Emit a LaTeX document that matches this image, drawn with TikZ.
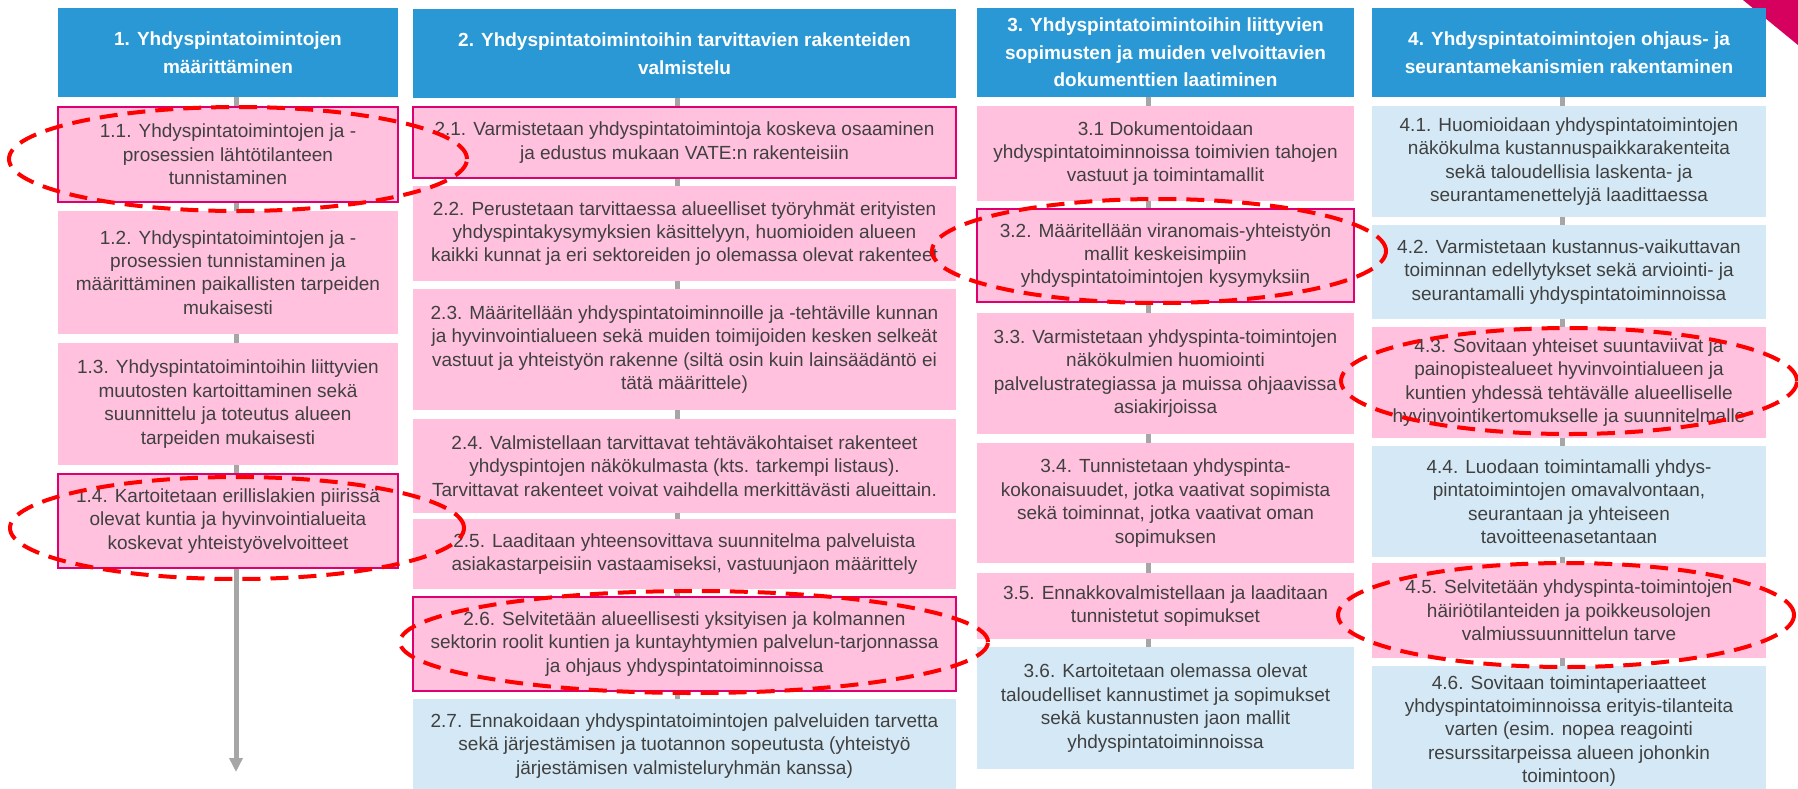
\documentclass[tikz,border=0pt]{standalone}
\usepackage{fontspec}
\setmainfont{Liberation Sans}
\usetikzlibrary{arrows.meta,backgrounds}
\definecolor{hdrblue}{RGB}{41,152,212}
\definecolor{pinkfill}{RGB}{255,193,222}
\definecolor{bluefill}{RGB}{212,233,245}
\definecolor{magborder}{RGB}{222,0,112}
\definecolor{txtgray}{RGB}{64,64,64}
\definecolor{conngray}{RGB}{166,166,166}
\definecolor{hlred}{RGB}{255,0,0}
\definecolor{cornermag}{RGB}{214,0,95}
\begin{document}
\begin{tikzpicture}[x=1pt,y=-1pt,
  base/.style={anchor=north west, inner sep=0pt, outer sep=0pt, align=center},
  hdr/.style={base, fill=hdrblue, text=white, font=\bfseries\fontsize{19pt}{27.5pt}\selectfont},
  pinkbox/.style={base, fill=pinkfill, text=txtgray, font=\fontsize{19pt}{23.4pt}\selectfont},
  bluebox/.style={base, fill=bluefill, text=txtgray, font=\fontsize{19pt}{23.4pt}\selectfont},
  marked/.style={draw=magborder, line width=2pt},
  conn/.style={draw=conngray, line width=5pt},
  hl/.style={draw=hlred, line width=4pt, dash pattern=on 18pt off 10pt}
]
\useasboundingbox (0,0) rectangle (1798,788);
\clip (0,0) rectangle (1798,788);
\begin{scope}[on background layer]
\fill[white] (0,0) rectangle (1798,788);
\end{scope}
\fill[cornermag] (1743,0) -- (1798,0) -- (1798,45) -- cycle;

% column 1
\node[hdr, minimum width=340pt, minimum height=89pt] (h1) at (58,8) {1. Yhdyspintatoimintojen\\määrittäminen};
\node[pinkbox, marked, minimum width=340pt, minimum height=95pt] (b11) at (58,107) {1.1. Yhdyspintatoimintojen ja -\\prosessien lähtötilanteen\\tunnistaminen};
\node[pinkbox, minimum width=340pt, minimum height=123pt] (b12) at (58,211) {1.2. Yhdyspintatoimintojen ja -\\prosessien tunnistaminen ja\\määrittäminen paikallisten tarpeiden\\mukaisesti};
\node[pinkbox, minimum width=340pt, minimum height=122pt] (b13) at (58,343) {1.3. Yhdyspintatoimintoihin liittyvien\\muutosten kartoittaminen sekä\\suunnittelu ja toteutus alueen\\tarpeiden mukaisesti};
\node[pinkbox, marked, minimum width=340pt, minimum height=94pt] (b14) at (58,474) {1.4. Kartoitetaan erillislakien piirissä\\olevat kuntia ja hyvinvointialueita\\koskevat yhteistyövelvoitteet};

% column 2
\node[hdr, minimum width=543pt, minimum height=89pt] (h2) at (413,9) {2. Yhdyspintatoimintoihin tarvittavien rakenteiden\\valmistelu};
\node[pinkbox, marked, minimum width=543pt, minimum height=71pt] (b21) at (413,107) {2.1. Varmistetaan yhdyspintatoimintoja koskeva osaaminen\\ja edustus mukaan VATE:n rakenteisiin};
\node[pinkbox, minimum width=543pt, minimum height=95pt] (b22) at (413,186) {2.2. Perustetaan tarvittaessa alueelliset työryhmät erityisten\\yhdyspintakysymyksien käsittelyyn, huomioiden alueen\\kaikki kunnat ja eri sektoreiden jo olemassa olevat rakenteet};
\node[pinkbox, minimum width=543pt, minimum height=121pt] (b23) at (413,289) {2.3. Määritellään yhdyspintatoiminnoille ja -tehtäville kunnan\\ja hyvinvointialueen sekä muiden toimijoiden kesken selkeät\\vastuut ja yhteistyön rakenne (siltä osin kuin lainsäädäntö ei\\tätä määrittele)};
\node[pinkbox, minimum width=543pt, minimum height=94pt] (b24) at (413,419) {2.4. Valmistellaan tarvittavat tehtäväkohtaiset rakenteet\\yhdyspintojen näkökulmasta (kts. tarkempi listaus).\\Tarvittavat rakenteet voivat vaihdella merkittävästi alueittain.};
\node[pinkbox, minimum width=543pt, minimum height=70pt] (b25) at (413,519) {2.5. Laaditaan yhteensovittava suunnitelma palveluista\\asiakastarpeisiin vastaamiseksi, vastuunjaon määrittely};
\node[pinkbox, marked, minimum width=543pt, minimum height=94pt] (b26) at (413,597) {2.6. Selvitetään alueellisesti yksityisen ja kolmannen\\sektorin roolit kuntien ja kuntayhtymien palvelun-tarjonnassa\\ja ohjaus yhdyspintatoiminnoissa};
\node[bluebox, minimum width=543pt, minimum height=94pt] (b27) at (413,699) {2.7. Ennakoidaan yhdyspintatoimintojen palveluiden tarvetta\\sekä järjestämisen ja tuotannon sopeutusta (yhteistyö\\järjestämisen valmisteluryhmän kanssa)};

% column 3
\node[hdr, minimum width=377pt, minimum height=89pt] (h3) at (977,8) {3. Yhdyspintatoimintoihin liittyvien\\sopimusten ja muiden velvoittavien\\dokumenttien laatiminen};
\node[pinkbox, minimum width=377pt, minimum height=95pt] (b31) at (977,106) {3.1 Dokumentoidaan\\yhdyspintatoiminnoissa toimivien tahojen\\vastuut ja toimintamallit};
\node[pinkbox, marked, minimum width=377pt, minimum height=93pt] (b32) at (977,209) {3.2. Määritellään viranomais-yhteistyön\\mallit keskeisimpiin\\yhdyspintatoimintojen kysymyksiin};
\node[pinkbox, minimum width=377pt, minimum height=121pt] (b33) at (977,313) {3.3. Varmistetaan yhdyspinta-toimintojen\\näkökulmien huomiointi\\palvelustrategiassa ja muissa ohjaavissa\\asiakirjoissa};
\node[pinkbox, minimum width=377pt, minimum height=120pt] (b34) at (977,443) {3.4. Tunnistetaan yhdyspinta-\\kokonaisuudet, jotka vaativat sopimista\\sekä toiminnat, jotka vaativat oman\\sopimuksen};
\node[pinkbox, minimum width=377pt, minimum height=66pt] (b35) at (977,573) {3.5. Ennakkovalmistellaan ja laaditaan\\tunnistetut sopimukset};
\node[bluebox, minimum width=377pt, minimum height=122pt] (b36) at (977,647) {3.6. Kartoitetaan olemassa olevat\\taloudelliset kannustimet ja sopimukset\\sekä kustannusten jaon mallit\\yhdyspintatoiminnoissa};

% column 4
\node[hdr, minimum width=394pt, minimum height=89pt] (h4) at (1372,8) {4. Yhdyspintatoimintojen ohjaus- ja\\seurantamekanismien rakentaminen};
\node[bluebox, minimum width=394pt, minimum height=111pt] (b41) at (1372,106) {4.1. Huomioidaan yhdyspintatoimintojen\\näkökulma kustannuspaikkarakenteita\\sekä taloudellisia laskenta- ja\\seurantamenettelyjä laadittaessa};
\node[bluebox, minimum width=394pt, minimum height=94pt] (b42) at (1372,225) {4.2. Varmistetaan kustannus-vaikuttavan\\toiminnan edellytykset sekä arviointi- ja\\seurantamalli yhdyspintatoiminnoissa};
\node[pinkbox, minimum width=394pt, minimum height=111pt] (b43) at (1372,327) {4.3. Sovitaan yhteiset suuntaviivat ja\\painopistealueet hyvinvointialueen ja\\kuntien yhdessä tehtävälle alueelliselle\\hyvinvointikertomukselle ja suunnitelmalle};
\node[bluebox, minimum width=394pt, minimum height=111pt] (b44) at (1372,446) {4.4. Luodaan toimintamalli yhdys-\\pintatoimintojen omavalvontaan,\\seurantaan ja yhteiseen\\tavoitteenasetantaan};
\node[pinkbox, minimum width=394pt, minimum height=95pt] (b45) at (1372,563) {4.5. Selvitetään yhdyspinta-toimintojen\\häiriötilanteiden ja poikkeusolojen\\valmiussuunnittelun tarve};
\node[bluebox, minimum width=394pt, minimum height=130pt] (b46) at (1372,666) {4.6. Sovitaan toimintaperiaatteet\\yhdyspintatoiminnoissa erityis-tilanteita\\varten (esim. nopea reagointi\\resurssitarpeissa alueen johonkin\\toimintoon)};

% connector lines
\coordinate (c1) at (236,0);
\coordinate (c2) at (677,0);
\coordinate (c3) at (1148,0);
\coordinate (c4) at (1562,0);
\coordinate (a1) at (236,772);
\begin{scope}[on background layer]
\draw[conn, -{Triangle[width=13pt,length=14pt]}] (h1.south -| c1) -- (a1);
\draw[conn] (h2.south -| c2) -- (b27.north -| c2);
\draw[conn] (h3.south -| c3) -- (b36.north -| c3);
\draw[conn] (h4.south -| c4) -- (b46.north -| c4);
\end{scope}

% highlight ellipses
\draw[hl] (238,159) ellipse [x radius=229pt, y radius=52pt];
\draw[hl] (237,528) ellipse [x radius=227pt, y radius=51pt];
\draw[hl] (694,642) ellipse [x radius=294pt, y radius=51pt];
\draw[hl] (1159,251) ellipse [x radius=227pt, y radius=52pt];
\draw[hl] (1569,381) ellipse [x radius=228pt, y radius=53pt];
\draw[hl] (1566,615) ellipse [x radius=228pt, y radius=52pt];
\end{tikzpicture}
\end{document}
